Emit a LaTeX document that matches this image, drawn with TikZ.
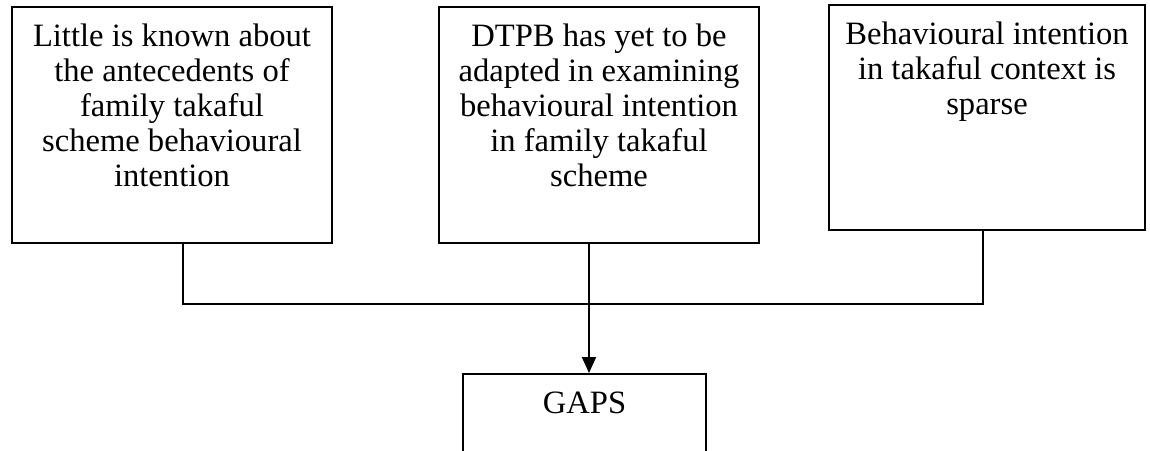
\documentclass[tikz,border=0pt]{standalone}
\usepackage{fontspec}
\setmainfont{Liberation Serif}
\usetikzlibrary{arrows.meta}

\begin{document}
\begin{tikzpicture}[x=0.5pt, y=-0.5pt,
    box/.style={draw, rectangle, line width=1pt, inner sep=0pt}, % the boxes
    txt/.style={anchor=north, align=center, inner sep=0pt, font=\fontsize{16.3}{17.5}\selectfont}
    ]
\useasboundingbox (0,0) rectangle (1150,450);
\clip (0,0) rectangle (1150,450);

\node[box, minimum width=160pt, minimum height=118pt] (little) at (172,125) {};
\node[txt] (littletxt) at ([yshift=-8.9pt]little.north) {Little is known about\\the antecedents of\\family takaful\\scheme behavioural\\intention};

\node[box, minimum width=160pt, minimum height=118pt] (dtpb) at (599,125) {};
\node[txt] (dtpbtxt) at ([yshift=-8.9pt]dtpb.north) {DTPB has yet to be\\adapted in examining\\behavioural intention\\in family takaful\\scheme};

\node[box, minimum width=158pt, minimum height=112.5pt] (sparse) at (987,117.5) {};
\node[txt] (sparsetxt) at ([yshift=-8.9pt]sparse.north) {Behavioural intention\\in takaful context is\\sparse};

\node[box, minimum width=121.5pt, minimum height=118pt] (gaps) at (584.5,492) {};
\node[txt] (gapstxt) at ([yshift=-9.2pt]gaps.north) {GAPS};

\coordinate (bus) at (589,304);
\draw[line width=0.8pt] ([xshift=5.5pt]little.south) |- (bus) -| ([xshift=-2pt]sparse.south);
\draw[line width=1pt, -{Triangle[length=8pt, width=7pt]}] ([xshift=-5pt]dtpb.south) -- ([xshift=2.25pt]gaps.north);
\end{tikzpicture}
\end{document}
